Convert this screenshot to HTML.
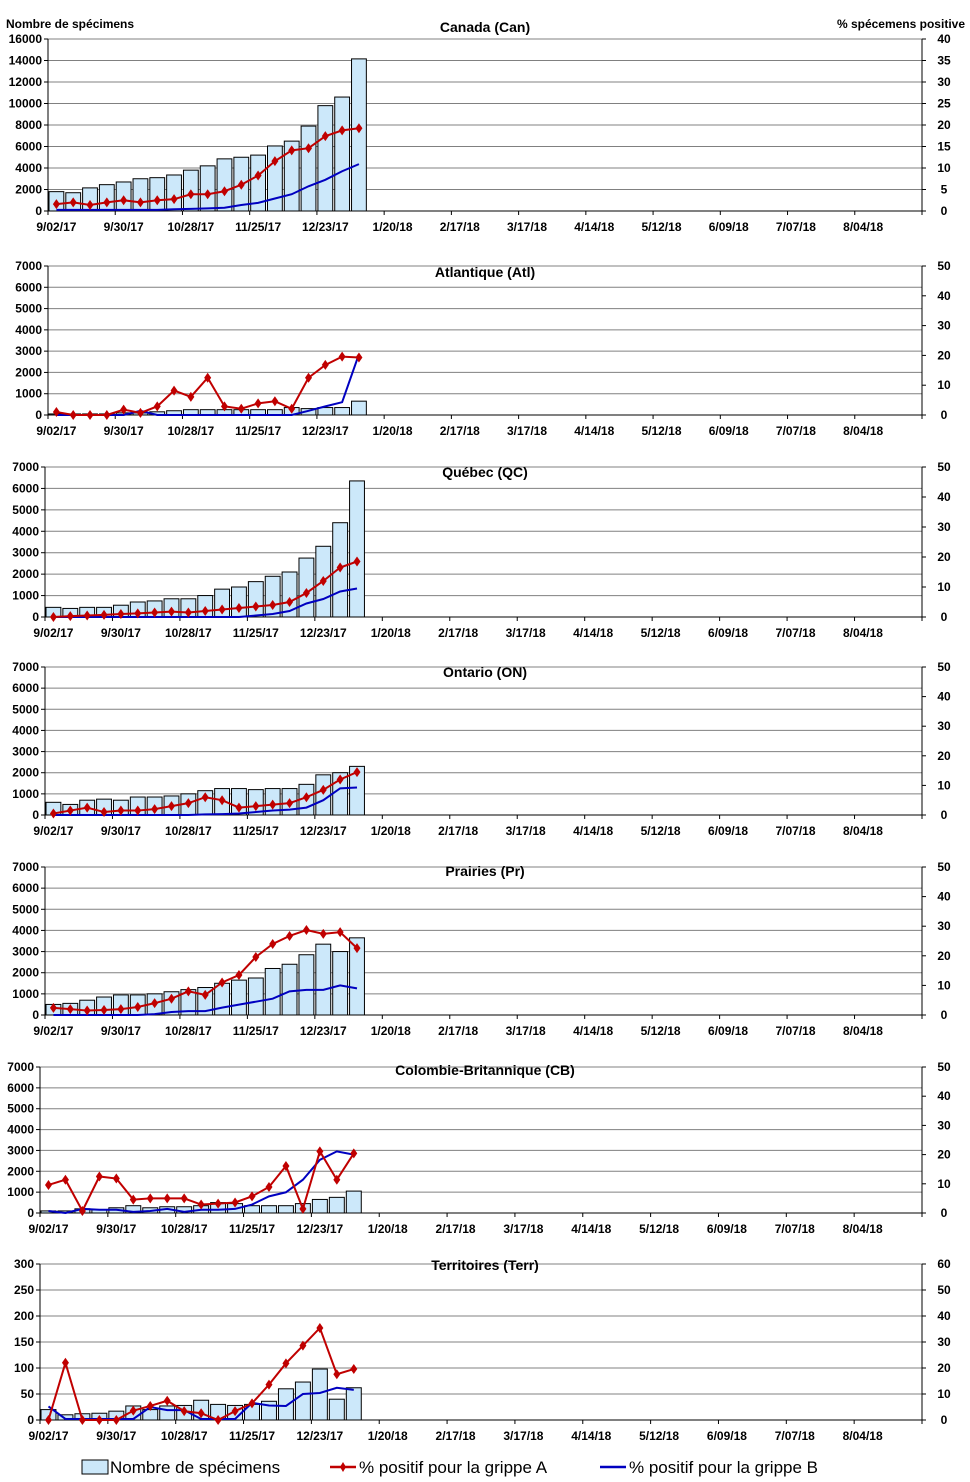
<!DOCTYPE html>
<html><head><meta charset="utf-8">
<style>
body{margin:0;background:#fff;}
svg{display:block;font-family:"Liberation Sans",Arial,sans-serif;}
.tk{font-size:12px;font-weight:bold;fill:#000;}
.tt{font-size:14px;font-weight:bold;fill:#000;}
</style></head>
<body>
<svg id="chart" width="970" height="1482" viewBox="0 0 970 1482">
<text x="6" y="28" class="tk">Nombre de spécimens</text>
<text x="965" y="28" class="tk" text-anchor="end">% spécemens positive</text>
<g>
<rect x="82" y="1460" width="26" height="14" fill="#cce8fa" stroke="#000"/>
<text x="110" y="1473" font-size="17">Nombre de spécimens</text>
<line x1="330" y1="1467" x2="356" y2="1467" stroke="#c00000" stroke-width="2.5"/>
<path d="M343 1462 L346 1467 L343 1472 L340 1467Z" fill="#c00000"/>
<text x="359" y="1473" font-size="17">% positif pour la grippe A</text>
<line x1="600" y1="1467" x2="626" y2="1467" stroke="#0000c0" stroke-width="2.5"/>
<text x="629" y="1473" font-size="17">% positif pour la grippe B</text>
</g>
</svg>
<script>
const xLabels=["9/02/17","9/30/17","10/28/17","11/25/17","12/23/17","1/20/18","2/17/18","3/17/18","4/14/18","5/12/18","6/09/18","7/07/18","8/04/18"];
const canBars=[1800,1700,2150,2450,2700,3000,3100,3350,3800,4200,4850,5000,5200,6050,6500,7900,9800,10600,14150];
const canA=[1.6,2,1.4,2,2.5,2,2.5,2.75,3.9,3.9,4.6,6.1,8.25,11.6,14.1,14.6,17.4,18.75,19.25];
const canB=[0.25,0.25,0.25,0.25,0.25,0.25,0.25,0.4,0.5,0.6,0.75,1.4,1.9,2.9,3.9,5.75,7.25,9.25,10.9];
const atlBars=[50,50,50,50,100,100,150,200,250,250,250,250,250,250,350,300,350,350,650];
const atlA=[1,0,0,0,1.8,0.7,2.9,8.2,6.1,12.5,2.9,2.1,3.9,4.6,2.1,12.5,16.8,19.6,19.3];
const atlB=[0,0,0,0,0,1.4,0,0,0,0,0,0,0,0,0,1.4,2.9,4.3,20.4];
const qcBars=[450,400,450,450,550,700,750,850,850,1000,1300,1400,1650,1900,2100,2750,3300,4400,6350];
const qcA=[0,0.3,0.5,0.7,1,1.2,1.5,1.8,1.5,2,2.5,3,3.5,4,5,8,12,16.5,18.5];
const qcB=[0,0,0,0,0,0,0,0,0,0,0,0,0.5,1,2,4.5,6,8.5,9.5];
const onBars=[600,500,700,750,700,850,850,900,1000,1150,1250,1250,1200,1250,1250,1450,1900,2000,2300];
const onA=[0.5,1.5,2.5,1,1.5,1.5,2,3,4,6,5,2.5,3,3.5,4,6,8.5,12,14.5];
const onB=[0,0,0,0,0,0,0,0,0,0.2,0.3,0.5,1,1.5,1.8,2.5,5,9,9.3];
const prBars=[500,550,700,850,950,950,1000,1100,1200,1300,1500,1650,1750,2200,2400,2850,3350,3000,3650];
const prA=[2.4,2,1.5,1.7,2,2.7,4,5.5,8,6.8,11,13.5,19.6,24,26.7,28.7,27.4,28,22.6];
const prB=[0,0,0,0,0,0,0.3,1,1.3,1.3,2.5,3.5,4.5,5.5,8,8.5,8.5,10,9];
const cbBars=[100,100,200,150,250,350,250,300,300,350,500,450,350,350,350,450,650,750,1050];
const cbA=[9.6,11.4,0.7,12.5,11.8,4.6,5,5,5,2.9,3.2,3.6,5.7,8.9,16.1,1.4,21.1,11.4,20.4];
const cbB=[0.7,0,1.4,1.1,1.1,0.4,0.7,1.4,0.4,1.1,1.1,1.4,2.9,5.7,7.1,11.4,18.2,21.1,20];
const trBars=[20,10,12,13,17,27,20,27,28,38,30,28,30,36,60,73,98,40,62];
const trA=[0,22,0,0,0,3.6,5.4,7.4,3.4,2.6,0,3.4,6.4,13.6,21.8,28.6,35.4,17.6,19.6];
const trB=[5.2,0.4,0.4,0.4,0.4,0.4,5,3.8,3.8,0.4,0.4,0.4,6.6,5.6,5.4,10,10.4,12.4,11.6];

const panels=[
 {name:"canada",title:"Canada (Can)",ty:32,x0:48,top:39,bot:211,lmax:16000,lstep:2000,rmax:40,rstep:5,bars:canBars,a:canA,b:canB},
 {name:"atlantique",title:"Atlantique (Atl)",ty:277,x0:48,top:266,bot:415,lmax:7000,lstep:1000,rmax:50,rstep:10,bars:atlBars,a:atlA,b:atlB},
 {name:"quebec",title:"Québec (QC)",ty:477,x0:45,top:467,bot:617,lmax:7000,lstep:1000,rmax:50,rstep:10,bars:qcBars,a:qcA,b:qcB},
 {name:"ontario",title:"Ontario (ON)",ty:677,x0:45,top:667,bot:815,lmax:7000,lstep:1000,rmax:50,rstep:10,bars:onBars,a:onA,b:onB},
 {name:"prairies",title:"Prairies (Pr)",ty:876,x0:45,top:867,bot:1015,lmax:7000,lstep:1000,rmax:50,rstep:10,bars:prBars,a:prA,b:prB},
 {name:"colombie-britannique",title:"Colombie-Britannique (CB)",ty:1075,x0:40,top:1067,bot:1213,lmax:7000,lstep:1000,rmax:50,rstep:10,bars:cbBars,a:cbA,b:cbB},
 {name:"territoires",title:"Territoires (Terr)",ty:1270,x0:40,top:1264,bot:1420,lmax:300,lstep:50,rmax:60,rstep:10,bars:trBars,a:trA,b:trB}
];
const NS="http://www.w3.org/2000/svg";
const svg=document.getElementById('chart');
function mk(tag,attrs,parent){const e=document.createElementNS(NS,tag);for(const k in attrs)e.setAttribute(k,attrs[k]);parent.appendChild(e);return e;}
const X1=922,N=52;
panels.forEach(p=>{
 const g=mk('g',{},svg);
 
 
 const w=(X1-p.x0)/N;
 const cx=i=>p.x0+w*(i+0.5);
 const yl=v=>p.bot-(v/p.lmax)*(p.bot-p.top);
 const yr=v=>p.bot-(v/p.rmax)*(p.bot-p.top);
 for(let v=0;v<=p.lmax;v+=p.lstep){
  const y=yl(v);
  const gl=mk('line',{x1:p.x0,x2:X1,y1:y,y2:y,stroke:v===0?'#000':'#808080','stroke-width':1},g);
  
  
  mk('line',{x1:p.x0-4,x2:p.x0,y1:y,y2:y,stroke:'#000'},g);
  const t=mk('text',{x:p.x0-6,y:y+4,'text-anchor':'end',class:'tk'},g);
  t.textContent=v;
  
  
 }
 for(let v=0;v<=p.rmax;v+=p.rstep){
  const y=yr(v);
  mk('line',{x1:X1,x2:X1+4,y1:y,y2:y,stroke:'#000'},g);
  const t=mk('text',{x:X1+22,y:y+4,'text-anchor':'middle',class:'tk'},g);
  t.textContent=v;
  
  
 }
 mk('line',{x1:p.x0,x2:p.x0,y1:p.top,y2:p.bot,stroke:'#000'},g);
 mk('line',{x1:X1,x2:X1,y1:p.top,y2:p.bot,stroke:'#000'},g);
 for(let i=0;i<=N;i+=4){mk('line',{x1:p.x0+w*i,x2:p.x0+w*i,y1:p.bot,y2:p.bot+4,stroke:'#000'},g);}
 xLabels.forEach((l,k)=>{
  const t=mk('text',{x:cx(k*4),y:p.bot+20,'text-anchor':'middle',class:'tk'},g);
  t.textContent=l;
  
  
 });
 const tt=mk('text',{x:485,y:p.ty,'text-anchor':'middle',class:'tt'},g);
 tt.textContent=p.title;
 
 
 p.bars.forEach((v,i)=>{
  const r=mk('rect',{x:cx(i)-w/2+1,y:yl(v),width:w-2,height:p.bot-yl(v),fill:'#cce8fa',stroke:'#000','stroke-width':1},g);
  
  
 });
 const lb=mk('polyline',{points:p.b.map((v,i)=>cx(i)+','+yr(v)).join(' '),fill:'none',stroke:'#0000c0','stroke-width':2},g);
 
 
 const la=mk('polyline',{points:p.a.map((v,i)=>cx(i)+','+yr(v)).join(' '),fill:'none',stroke:'#c00000','stroke-width':2},g);
 
 
 p.a.forEach((v,i)=>{
  const x=cx(i),y=yr(v);
  const m=mk('path',{d:`M${x} ${y-5}L${x+3.5} ${y}L${x} ${y+5}L${x-3.5} ${y}Z`,fill:'#c00000'},g);
  
  
 });
});
</script>
</body></html>
